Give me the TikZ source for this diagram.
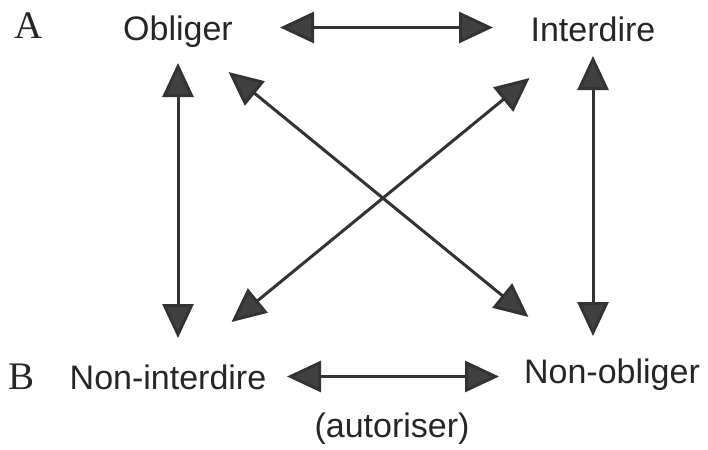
\documentclass[tikz,border=0pt]{standalone}
\usepackage{fontspec}
\setmainfont{Liberation Sans}
\newfontfamily\romfont{Liberation Serif}
\usepackage{tikz}
\usetikzlibrary{arrows.meta}
\colorlet{ink}{black!80}
\tikzset{
  term/.style={anchor=base, inner sep=0pt, text height=12.5pt, text depth=0pt, font=\fontsize{17}{20}\selectfont, text=black!85},
  rowlabel/.style={anchor=base, inner sep=0pt, font=\romfont\fontsize{19.5}{22}\selectfont, text=black!85},
  dbl/.style={{Triangle[length=17pt,width=15.5pt,fill=black!75]}-{Triangle[length=17pt,width=15.5pt,fill=black!75]}, draw=ink, line width=1.5pt}
}
\begin{document}
\begin{tikzpicture}[x=0.5pt, y=-0.5pt]
  \useasboundingbox (0,0) rectangle (708,450);
  \node[rowlabel] (rowA) at (29,38) {A};
  \node[rowlabel] (rowB) at (22,389) {B};
  \node[term] (obl) at (178,40) {Obliger};
  \node[term] (int) at (593,41) {Interdire};
  \node[term] (nin) at (168,389) {Non-interdire};
  \node[term] (nob) at (612,383) {Non-obliger};
  \node[term] (aut) at (392,437) {(autoriser)};

  \draw[dbl, shorten <=51pt, shorten >=50pt] (obl.center) -- (obl.center -| int.center);
  \draw[dbl, shorten <=59.5pt, shorten >=56.5pt] (nin.center) -- (nin.center -| nob.center);
  \draw[dbl, shorten <=17.75pt, shorten >=19.25pt] (obl.center) -- (obl.center |- nin.center);
  \draw[dbl, shorten <=13.75pt, shorten >=17.25pt] (int.center) -- (int.center |- nob.center);
  \draw[dbl, shorten <=35.2pt, shorten >=42.3pt] ([xshift=-2pt]obl.center) -- ([xshift=-9pt]nob.center);
  \draw[dbl, shorten <=39.1pt, shorten >=43pt] ([xshift=-1.5pt]int.center) -- ([xshift=-1.5pt]nin.center);
\end{tikzpicture}
\end{document}
